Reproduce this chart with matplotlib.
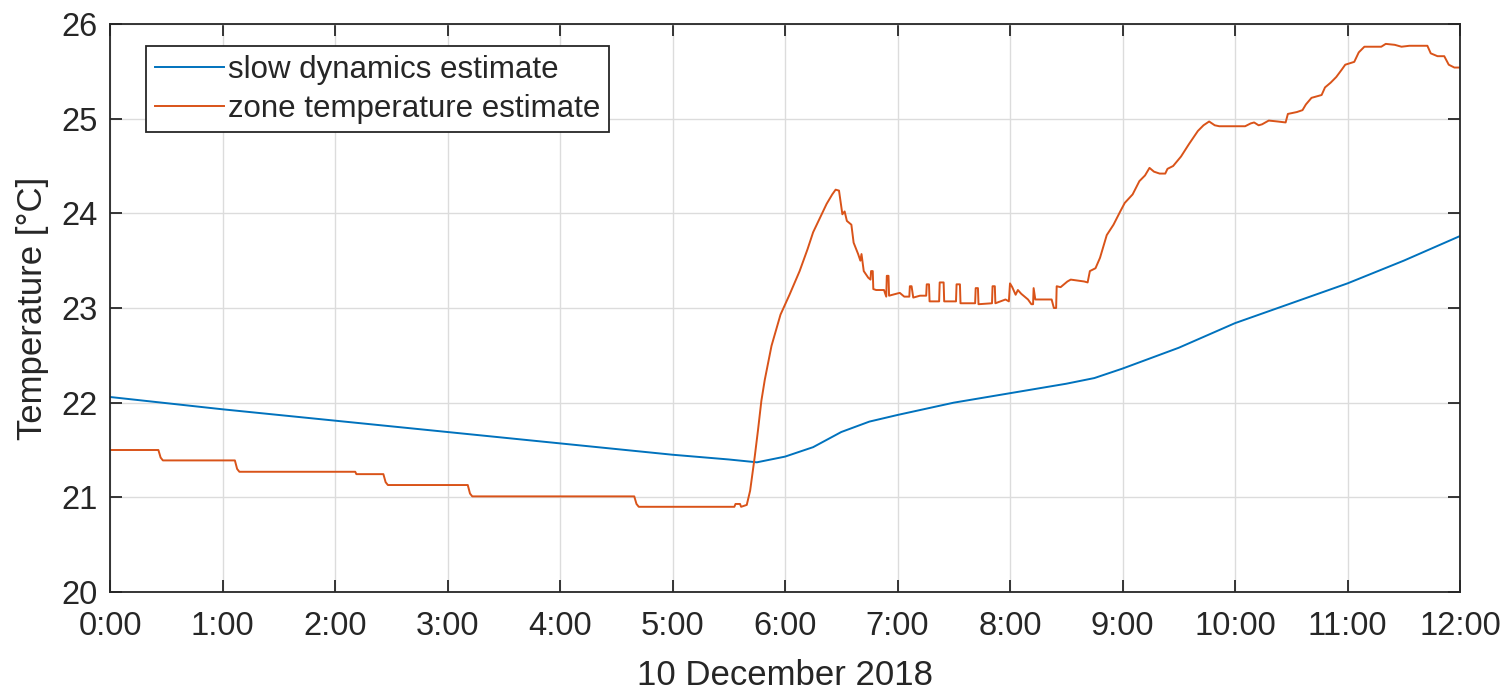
import matplotlib
matplotlib.use("Agg")
import matplotlib.pyplot as plt

# ---- data (hours since midnight, temperature in °C) ----
slow_hours = [0.0, 1.0, 2.0, 3.0, 4.0, 5.0, 5.5, 5.75, 6.0, 6.25, 6.5, 6.75,
              7.0, 7.5, 8.0, 8.5, 8.75, 9.0, 9.5, 10.0, 10.5, 11.0, 11.5, 12.0]
slow_temps = [22.06, 21.93, 21.81, 21.69, 21.57, 21.45, 21.40, 21.37, 21.43,
              21.53, 21.69, 21.80, 21.87, 22.00, 22.10, 22.20, 22.26, 22.36,
              22.58, 22.84, 23.05, 23.26, 23.50, 23.76]

zone_hours = [0.00, 0.43, 0.45, 0.47, 1.11, 1.13, 1.15, 2.18, 2.19, 2.43, 2.45,
              2.47, 3.18, 3.20, 3.22, 4.66, 4.68, 4.70, 5.55, 5.56, 5.60, 5.61,
              5.66, 5.69, 5.73, 5.76, 5.79, 5.82, 5.88, 5.96, 6.04, 6.13, 6.20,
              6.25, 6.31, 6.37, 6.42, 6.45, 6.48, 6.51, 6.53, 6.55, 6.59, 6.61,
              6.65, 6.67, 6.68, 6.70, 6.74, 6.76, 6.765, 6.78, 6.785, 6.81, 6.88,
              6.90, 6.905, 6.92, 6.925, 7.02, 7.06, 7.105, 7.11, 7.125, 7.14,
              7.20, 7.255, 7.26, 7.28, 7.285, 7.37, 7.375, 7.41, 7.415, 7.52,
              7.525, 7.555, 7.56, 7.69, 7.695, 7.715, 7.72, 7.84, 7.845, 7.865,
              7.87, 7.96, 7.99, 8.00, 8.02, 8.05, 8.07, 8.10, 8.16, 8.19, 8.205,
              8.21, 8.225, 8.37, 8.39, 8.41, 8.415, 8.45, 8.51, 8.54, 8.66, 8.69,
              8.71, 8.76, 8.80, 8.86, 8.92, 8.98, 9.02, 9.09, 9.15, 9.20, 9.24,
              9.28, 9.33, 9.38, 9.40, 9.45, 9.52, 9.59, 9.67, 9.72, 9.77, 9.82,
              9.86, 10.09, 10.14, 10.17, 10.21, 10.24, 10.30, 10.38, 10.45, 10.47,
              10.55, 10.60, 10.63, 10.68, 10.77, 10.80, 10.85, 10.90, 10.95,
              10.98, 11.06, 11.10, 11.15, 11.30, 11.34, 11.42, 11.48, 11.55,
              11.71, 11.74, 11.80, 11.86, 11.90, 11.95, 12.00]
zone_temps = [21.50, 21.50, 21.42, 21.39, 21.39, 21.30, 21.27, 21.27, 21.245,
              21.245, 21.16, 21.13, 21.13, 21.04, 21.01, 21.01, 20.93, 20.90,
              20.90, 20.93, 20.93, 20.90, 20.92, 21.07, 21.42, 21.71, 22.02,
              22.24, 22.60, 22.93, 23.14, 23.39, 23.62, 23.80, 23.95, 24.10,
              24.20, 24.25, 24.24, 23.99, 24.02, 23.92, 23.88, 23.69, 23.57,
              23.50, 23.57, 23.39, 23.32, 23.30, 23.39, 23.39, 23.20, 23.19,
              23.19, 23.12, 23.34, 23.34, 23.13, 23.16, 23.12, 23.12, 23.23,
              23.23, 23.11, 23.13, 23.13, 23.25, 23.25, 23.07, 23.07, 23.27,
              23.27, 23.07, 23.07, 23.25, 23.25, 23.05, 23.05, 23.21, 23.21,
              23.04, 23.05, 23.23, 23.23, 23.05, 23.09, 23.07, 23.26, 23.22,
              23.14, 23.19, 23.15, 23.09, 23.04, 23.04, 23.21, 23.09, 23.09,
              23.00, 23.00, 23.23, 23.22, 23.28, 23.30, 23.28, 23.27, 23.39,
              23.42, 23.53, 23.77, 23.88, 24.02, 24.11, 24.20, 24.34, 24.40,
              24.48, 24.44, 24.42, 24.42, 24.47, 24.50, 24.60, 24.73, 24.87,
              24.93, 24.97, 24.93, 24.92, 24.92, 24.95, 24.96, 24.93, 24.94,
              24.98, 24.97, 24.96, 25.05, 25.07, 25.09, 25.15, 25.22, 25.25,
              25.33, 25.38, 25.44, 25.52, 25.57, 25.60, 25.70, 25.76, 25.76,
              25.79, 25.78, 25.76, 25.77, 25.77, 25.69, 25.66, 25.66, 25.57,
              25.54, 25.54]

x_ticks = list(range(13))
x_tick_labels = ["0:00", "1:00", "2:00", "3:00", "4:00", "5:00", "6:00",
                 "7:00", "8:00", "9:00", "10:00", "11:00", "12:00"]
y_ticks = [20, 21, 22, 23, 24, 25, 26]
series_labels = ["slow dynamics estimate", "zone temperature estimate"]

# ---- plot ----
plt.rcParams["font.family"] = ["Liberation Sans", "DejaVu Sans"]
fig = plt.figure(figsize=(15.11, 6.94), dpi=100)
ax = fig.add_axes([110 / 1511, 1 - 592 / 694, 1350 / 1511, 568 / 694])

ax.plot(slow_hours, slow_temps, color="#0072BD", lw=1.4, label=series_labels[0])
ax.plot(zone_hours, zone_temps, color="#D95319", lw=1.4, label=series_labels[1])

ax.set_xlim(0, 12)
ax.set_ylim(20, 26)
ax.set_xticks(x_ticks)
ax.set_xticklabels(x_tick_labels)
ax.set_yticks(y_ticks)

axis_gray = "#262626"
ax.grid(True, color="#dcdcdc", lw=1.0)
ax.set_axisbelow(True)
for s in ax.spines.values():
    s.set_color(axis_gray)
    s.set_linewidth(1.3)
ax.tick_params(direction="in", length=8.5, width=1.3, color=axis_gray,
               top=True, right=True, labelsize=23.5, labelcolor=axis_gray)
ax.tick_params(axis="x", pad=14)
ax.tick_params(axis="y", pad=9)

ax.set_xlabel("10 December 2018", fontsize=25, color=axis_gray, labelpad=12)
ax.set_ylabel("Temperature [°C]", fontsize=25, color=axis_gray, labelpad=9)

leg = ax.legend(loc="upper left", bbox_to_anchor=(0.0267, 0.961),
                fontsize=22.5, frameon=True, fancybox=False, framealpha=1,
                edgecolor=axis_gray, handlelength=2.2, handletextpad=0.15,
                labelspacing=0.28, borderpad=0.28, borderaxespad=0.0)
leg.get_frame().set_linewidth(1.3)
for t in leg.get_texts():
    t.set_color(axis_gray)

fig.savefig("out.png", dpi=100)
